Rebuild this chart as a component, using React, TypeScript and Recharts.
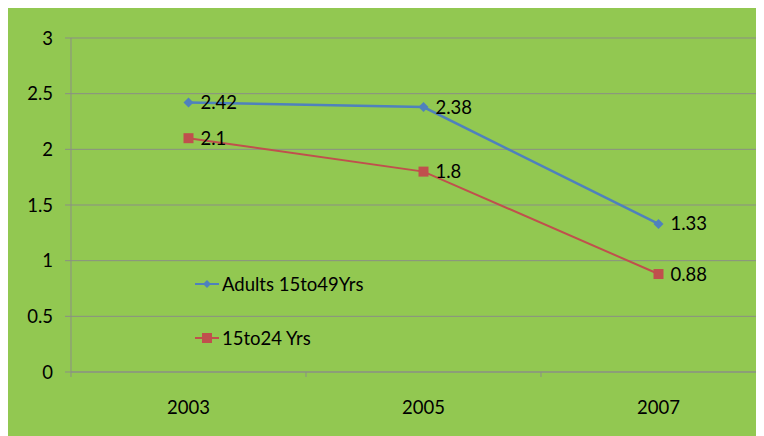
import { LineChart, Line, XAxis, YAxis, CartesianGrid, LabelList } from 'recharts';

const years = ['2003', '2005', '2007'];
const adults = [2.42, 2.38, 1.33];
const youth = [2.1, 1.8, 0.88];
const yTicks = [0, 0.5, 1, 1.5, 2, 2.5, 3];

const data = years.map((year, i) => ({ year, adults: adults[i], youth: youth[i] }));

const FONT = 'Lato, "Open Sans", sans-serif';
const FS = 18.5;
const AXIS = '#8a8f85';

const Diamond = (props: any) => {
  const { cx, cy } = props;
  if (cx == null || cy == null) return null;
  const s = 5;
  return <path d={`M${cx},${cy - s}L${cx + s},${cy}L${cx},${cy + s}L${cx - s},${cy}Z`} fill="#4F81BD" />;
};

const Square = (props: any) => {
  const { cx, cy } = props;
  if (cx == null || cy == null) return null;
  return <rect x={cx - 5} y={cy - 5} width={10} height={10} fill="#C0504D" />;
};

// label at band centre, tick marks on band edges like Excel
const YearTick = (props: any) => {
  const { x, y, payload, index, visibleTicksCount } = props;
  const half = payload?.offset || 117.5;
  const axisY = y - 8;
  return (
    <g>
      <line x1={x - half} y1={axisY} x2={x - half} y2={axisY + 5} stroke={AXIS} />
      {index === visibleTicksCount - 1 && (
        <line x1={x + half} y1={axisY} x2={x + half} y2={axisY + 5} stroke={AXIS} />
      )}
      <text x={x} y={y + 34} textAnchor="middle" fill="#000" fontSize={FS} fontFamily={FONT}>
        {payload.value}
      </text>
    </g>
  );
};

const LegendBox = () => (
  <div
    style={{
      position: 'absolute',
      left: 186,
      top: 264,
      fontFamily: FONT,
      fontSize: FS,
      color: '#000',
    }}
  >
    <div style={{ display: 'flex', alignItems: 'center', height: 24 }}>
      <svg width={26} height={12}>
        <line x1={1} y1={6} x2={25} y2={6} stroke="#4F81BD" strokeWidth={2} />
        <path d="M13,2L17,6L13,10L9,6Z" fill="#4F81BD" />
      </svg>
      <span style={{ marginLeft: 2 }}>Adults 15to49Yrs</span>
    </div>
    <div style={{ display: 'flex', alignItems: 'center', height: 24, marginTop: 30 }}>
      <svg width={26} height={12}>
        <line x1={1} y1={6} x2={25} y2={6} stroke="#C0504D" strokeWidth={2} />
        <rect x={8} y={1} width={10} height={10} fill="#C0504D" />
      </svg>
      <span style={{ marginLeft: 2 }}>15to24 Yrs</span>
    </div>
  </div>
);

export default function App() {
  return (
    <div style={{ position: 'relative', width: 756, height: 428, overflow: 'hidden', background: '#92C851' }}>
      <LineChart
        width={790}
        height={428}
        data={data}
        margin={{ top: 30, right: 22, bottom: 0, left: 0 }}
      >
        <CartesianGrid vertical={false} stroke={AXIS} strokeWidth={1} />
        <XAxis
          dataKey="year"
          scale="band"
          axisLine={{ stroke: AXIS }}
          tickLine={false}
          tick={<YearTick />}
          height={64}
          interval={0}
        />
        <YAxis
          domain={[0, 3]}
          ticks={yTicks}
          width={63}
          axisLine={{ stroke: AXIS }}
          tickLine={{ stroke: AXIS }}
          tickSize={6}
          tickMargin={12}
          tick={{ fill: '#000', fontSize: FS, fontFamily: FONT }}
        />
        <Line
          dataKey="adults"
          stroke="#4F81BD"
          strokeWidth={2.5}
          dot={<Diamond />}
          activeDot={false}
          isAnimationActive={false}
        >
          <LabelList dataKey="adults" position="right" offset={12} fill="#000" fontSize={FS} fontFamily={FONT} />
        </Line>
        <Line
          dataKey="youth"
          stroke="#C0504D"
          strokeWidth={2}
          dot={<Square />}
          activeDot={false}
          isAnimationActive={false}
        >
          <LabelList dataKey="youth" position="right" offset={12} fill="#000" fontSize={FS} fontFamily={FONT} />
        </Line>
      </LineChart>
      <LegendBox />
    </div>
  );
}
